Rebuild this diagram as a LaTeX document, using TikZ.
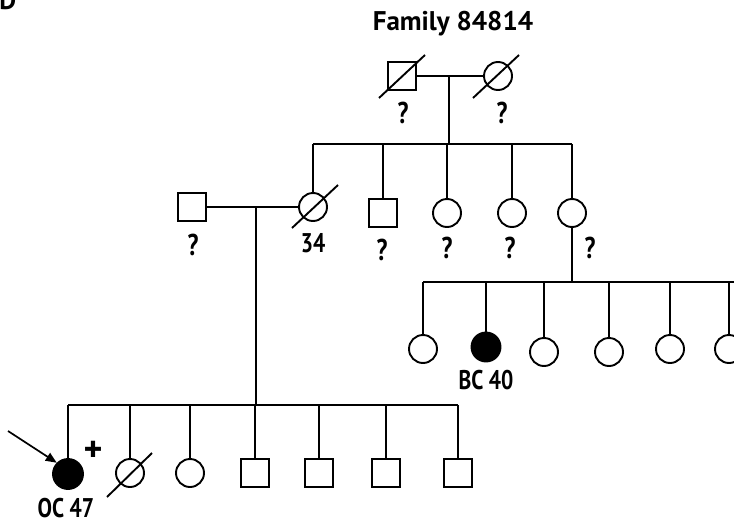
\documentclass[tikz,border=0pt]{standalone}
\usepackage{fontspec}
\setmainfont{PT Sans}
\newfontfamily\condfont{PT Sans}[FakeStretch=0.8]
\usetikzlibrary{arrows.meta}
\tikzset{
  ped/.style={draw, line width=1.9pt, inner sep=0pt},
  male/.style={ped, rectangle, minimum size=28pt},
  female/.style={ped, circle, minimum size=28pt},
  aff/.style={fill=black},
  lab/.style={font=\condfont\bfseries\fontsize{27}{27}\selectfont, inner sep=0pt},
  qm/.style={font=\condfont\bfseries\fontsize{30}{30}\selectfont, inner sep=0pt},
  ln/.style={line width=1.9pt},
  slash/.style={line width=1.9pt},
}
\begin{document}
\begin{tikzpicture}[x=1pt,y=-1pt]
\useasboundingbox (0,0) rectangle (734,525);
\clip (0,0) rectangle (734,525);
\node[anchor=base east, inner sep=0pt, font=\bfseries\fontsize{26}{26}\selectfont] (D) at (16.5,9) {D};
\node[font=\bfseries\fontsize{27}{27}\selectfont, inner sep=0pt] (title) at (453,24) {Family 84814};
% Generation I
\node[male] (I1) at (402,76) {};
\node[female] (I2) at (498,76) {};
\draw[slash] ([shift={(-23,22)}]I1.center) -- ([shift={(23,-21)}]I1.center);
\draw[slash] ([shift={(-25,22)}]I2.center) -- ([shift={(21,-21)}]I2.center);
\node[qm] (qI1) at (403,113) {?};
\node[qm] (qI2) at (502,113) {?};
\draw[ln] (I1.east) -- (I2.west);
\coordinate (m1) at (449,76);
\coordinate (s1) at (449,144);
\draw[ln] (m1) -- (s1);
% Generation II
\node[male] (II1) at (192,207) {};
\node[female] (II2) at (313,207) {};
\node[male] (II3) at (383,213) {};
\node[female] (II4) at (447,213) {};
\node[female] (II5) at (512,213) {};
\node[female] (II6) at (572,213) {};
\draw[slash] ([shift={(-21,21)}]II2.center) -- ([shift={(25,-22)}]II2.center);
\coordinate (s1L) at (313,144);
\coordinate (s1R) at (572,144);
\draw[ln] (s1L) -- (s1R);
\foreach \n in {II2,II3,II4,II5,II6}{
  \draw[ln] (\n.north |- s1L) -- (\n.north);
}
\node[qm] (qII1) at (193,245) {?};
\node[lab] (aII2) at (313,243) {34};
\node[qm] (qII3) at (382,250) {?};
\node[qm] (qII4) at (447,248) {?};
\node[qm] (qII5) at (510,248) {?};
\node[qm] (qII6) at (590,248) {?};
\draw[ln] (II1.east) -- (II2.west);
\coordinate (m2) at (256,207);
% Generation III right
\coordinate (s3) at (572,282);
\draw[ln] (II6.south) -- (s3);
\node[female] (R1) at (423,349) {};
\node[female,aff,minimum size=29pt] (R2) at (486,347) {};
\node[female] (R3) at (544,352) {};
\node[female] (R4) at (609,352) {};
\node[female] (R5) at (670,349) {};
\node[female] (R6) at (729,349) {};
\coordinate (s3L) at (423,282);
\coordinate (s3R) at (745,282);
\draw[ln] (s3L) -- (s3R);
\foreach \n in {R1,R2,R3,R4,R5,R6}{
  \draw[ln] (\n.north |- s3L) -- (\n.north);
}
\node[lab] (bc) at (486,380) {BC 40};
% Generation III left
\coordinate (s2) at (256,405);
\draw[ln] (m2) -- (s2);
\node[female,aff,minimum size=30pt] (L1) at (68,474) {};
\node[female] (L2) at (130,473) {};
\node[female] (L3) at (190,473) {};
\node[male] (L4) at (255,473) {};
\node[male] (L5) at (319,473) {};
\node[male] (L6) at (386,473) {};
\node[male] (L7) at (458,473) {};
\draw[slash] ([shift={(-23,24)}]L2.center) -- ([shift={(22,-20)}]L2.center);
\coordinate (s2L) at (68,405);
\coordinate (s2R) at (458,405);
\draw[ln] (s2L) -- (s2R);
\foreach \n in {L1,L2,L3,L4,L5,L6,L7}{
  \draw[ln] (\n.north |- s2L) -- (\n.north);
}
\node[font=\bfseries\fontsize{36}{36}\selectfont, inner sep=0pt] (plus) at (93,451) {+};
\node[lab] (oc) at (66,508) {OC 47};
\coordinate (arr) at (8,431);
\draw[line width=1.7pt, -{Triangle[length=11pt,width=9pt]}] (arr) -- (L1.north west);
\end{tikzpicture}
\end{document}
